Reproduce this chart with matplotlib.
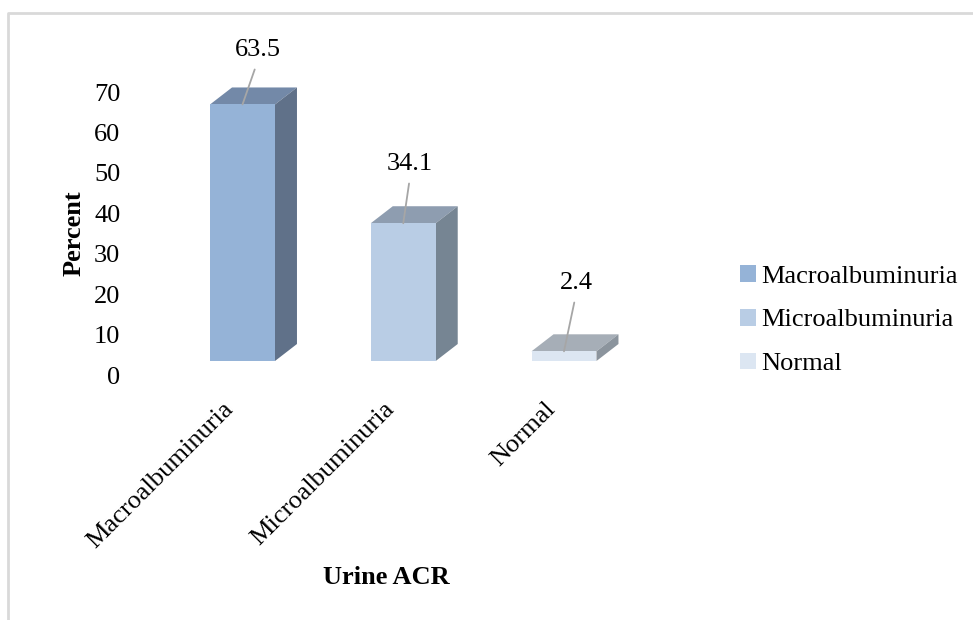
import matplotlib.pyplot as plt
from matplotlib.patches import Polygon, Patch
from matplotlib.transforms import ScaledTranslation

plt.rcParams['font.family'] = ['Liberation Serif', 'DejaVu Serif']

categories = ["Macroalbuminuria", "Microalbuminuria", "Normal"]
percent = [63.5, 34.1, 2.4]
yticks = [0, 10, 20, 30, 40, 50, 60, 70]

front_colors = ["#95B3D7", "#B9CDE5", "#DCE6F2"]
top_colors = ["#7389A8", "#8E9DB0", "#A6AEB7"]
side_colors = ["#607189", "#768593", "#8B949D"]

# label offsets from the top of each bar front, in pixels
label_offsets = [(15, 54), (7, 59), (12, 68)]

FS = 19
W, H = 973, 620
DPI = 100
fig = plt.figure(figsize=(W / DPI, H / DPI), dpi=DPI)

# light frame around the chart area (only top/left visible)
frame = fig.add_axes([0, 0, 1, 1])
frame.set_xlim(0, W)
frame.set_ylim(H, 0)
frame.axis("off")
frame.plot([8, 8, W + 5], [H + 5, 12.5, 12.5], color="#D9D9D9", lw=2)

# main plotting area: x unit = 160.75 px, y unit = 4.04 px, base at y=361 px
x_px = 160.75
y_px = 4.04
x0_px, base_px = 242.5, 361
xlim = (-1.2, 2.6)
ylim = (-5, 75)
left = x0_px + xlim[0] * x_px
right = x0_px + xlim[1] * x_px
bottom = base_px - ylim[0] * y_px
top = base_px - ylim[1] * y_px
ax = fig.add_axes([left / W, 1 - bottom / H, (right - left) / W, (bottom - top) / H])
ax.set_xlim(*xlim)
ax.set_ylim(*ylim)
for s in ax.spines.values():
    s.set_visible(False)
ax.set_yticks([])

width = 0.404
depth_x = 22 / x_px
depth_y = 17 / y_px
xs = list(range(len(categories)))

ax.bar(xs, percent, width=width, color=front_colors, zorder=3)
for x, v, tc, sc in zip(xs, percent, top_colors, side_colors):
    l, r = x - width / 2, x + width / 2
    ax.add_patch(Polygon([(l, v), (r, v), (r + depth_x, v + depth_y), (l + depth_x, v + depth_y)],
                         closed=True, facecolor=tc, edgecolor="none", zorder=2))
    ax.add_patch(Polygon([(r, 0), (r + depth_x, depth_y), (r + depth_x, v + depth_y), (r, v)],
                         closed=True, facecolor=sc, edgecolor="none", zorder=2))

for x, v, (ox, oy) in zip(xs, percent, label_offsets):
    ax.annotate(f"{v}", xy=(x, v), xytext=(ox * 0.72, oy * 0.72), textcoords="offset points",
                ha="center", va="center", fontsize=FS, zorder=5,
                arrowprops=dict(arrowstyle="-", color="#A6A6A6", lw=1.3, relpos=(0.5, 0),
                                shrinkA=4, shrinkB=0))

ax.set_xticks(xs)
ax.set_xticklabels(categories, rotation=45, ha="right", va="top", rotation_mode="anchor", fontsize=FS)
ax.tick_params(axis="x", length=0, pad=12)
shift = ScaledTranslation(-20 / DPI, 0, fig.dpi_scale_trans)
for lab in ax.get_xticklabels():
    lab.set_transform(lab.get_transform() + shift)

# value axis sits slightly below the bar floor
ay_bottom = bottom + 14
ay_top = top + 14
ay = fig.add_axes([130 / W, 1 - ay_bottom / H, 0.001, (ay_bottom - ay_top) / H])
ay.set_ylim(*ylim)
ay.set_yticks(yticks)
ay.set_yticklabels([str(t) for t in yticks], fontsize=FS)
ay.tick_params(axis="y", length=0, pad=7)
ay.set_xticks([])
for s in ay.spines.values():
    s.set_visible(False)
ay.patch.set_alpha(0)

fig.text(74 / W, 1 - 233 / H, "Percent", rotation=90, ha="center", va="center",
         fontsize=FS, fontweight="bold")
fig.text(386 / W, 1 - 577 / H, "Urine ACR", ha="center", va="center",
         fontsize=FS, fontweight="bold")

handles = [Patch(facecolor=c, edgecolor="none") for c in front_colors]
fig.legend(handles, categories, loc="upper left", bbox_to_anchor=(740 / W, 1 - 265 / H),
           frameon=False, fontsize=FS, handlelength=0.6, handleheight=0.6,
           handletextpad=0.2, labelspacing=0.8, borderpad=0, borderaxespad=0)

fig.savefig("out.png", dpi=DPI)
